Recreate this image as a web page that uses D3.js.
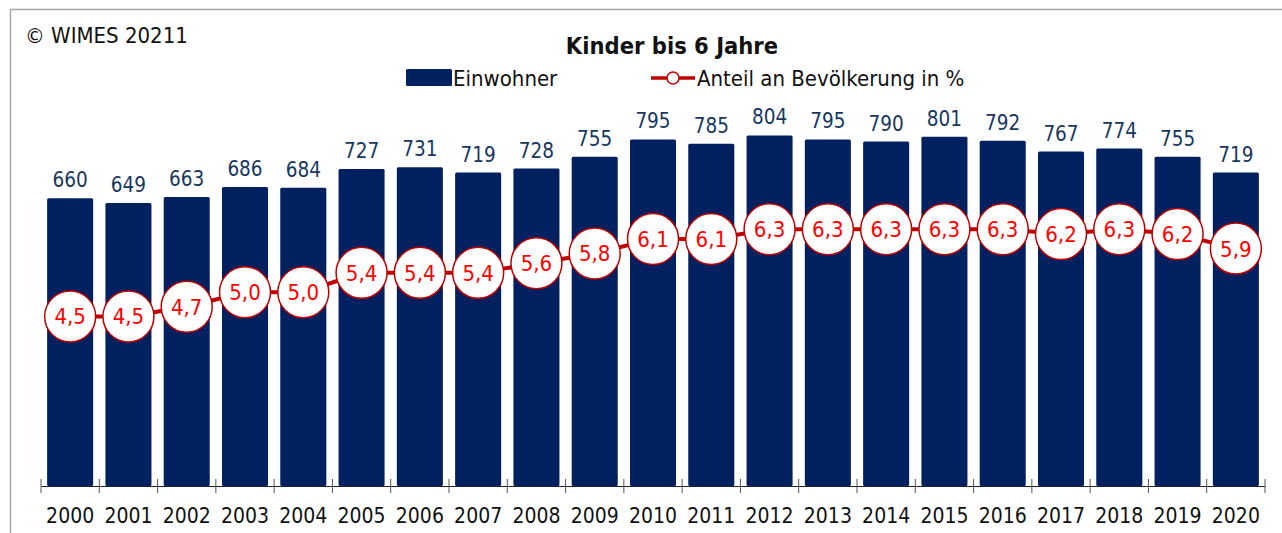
<!DOCTYPE html>
<html>
<head>
<meta charset="utf-8">
<script src="https://cdn.jsdelivr.net/npm/d3@7"></script>
<style>
  body { margin: 0; background: #fff; }
  text { font-family: Tahoma, "DejaVu Sans Condensed", "DejaVu Sans", sans-serif; }
</style>
</head>
<body>
<div id="chart"></div>
<script>
// data
let years = ["2000", "2001", "2002", "2003", "2004", "2005", "2006", "2007", "2008", "2009", "2010",
    "2011", "2012", "2013", "2014", "2015", "2016", "2017", "2018", "2019", "2020"]
let einwohner = [660, 649, 663, 686, 684, 727, 731, 719, 728, 755, 795, 785, 804, 795, 790, 801, 792, 767, 774, 755, 719]
let anteil = [4.5, 4.5, 4.7, 5.0, 5.0, 5.4, 5.4, 5.4, 5.6, 5.8, 6.1, 6.1, 6.3, 6.3, 6.3, 6.3, 6.3, 6.2, 6.3, 6.2, 5.9]

var width = 1282, height = 533

var svg = d3.select("#chart")
    .append("svg")
    .attr("width", width)
    .attr("height", height)

// frame
svg.append("path")
    .attr("d", "M10.5," + height + " V9.5 H" + width)
    .attr("fill", "none")
    .attr("stroke", "#a6a6a6")
    .attr("stroke-width", 1.5)

var x = d3.scaleBand().domain(years).range([41, 1265]).paddingInner(0.21).paddingOuter(0.105)
var y = d3.scaleLinear().domain([0, 1000]).range([486, 50])
var y2 = d3.scaleLinear().domain([1, 10]).range([486, 50])

svg.append("text")
    .attr("x", 25).attr("y", 43)
    .attr("font-size", 22)
    .attr("fill", "#111")
    .text("© WIMES 20211")

svg.append("text")
    .attr("x", 672).attr("y", 54)
    .attr("text-anchor", "middle")
    .attr("font-size", 23.5)
    .attr("font-weight", "bold")
    .attr("fill", "#111")
    .text("Kinder bis 6 Jahre")

// legend
svg.append("rect")
    .attr("x", 406).attr("y", 69).attr("width", 46).attr("height", 17).attr("rx", 1.5)
    .attr("fill", "#002060")
svg.append("text")
    .attr("x", 453).attr("y", 86).attr("font-size", 22).attr("fill", "#111")
    .text("Einwohner")
svg.append("line")
    .attr("x1", 651).attr("x2", 695).attr("y1", 78).attr("y2", 78)
    .attr("stroke", "#c00000").attr("stroke-width", 3.5)
svg.append("circle")
    .attr("cx", 673).attr("cy", 78).attr("r", 6)
    .attr("fill", "#fff").attr("stroke", "#c00000").attr("stroke-width", 1.5)
svg.append("text")
    .attr("x", 697).attr("y", 86).attr("font-size", 22).attr("fill", "#111")
    .text("Anteil an Bevölkerung in %")

// bars
svg.selectAll(".bar")
    .data(einwohner)
    .enter()
    .append("rect")
    .attr("class", "bar")
    .attr("x", (d, i) => x(years[i]))
    .attr("y", d => y(d))
    .attr("width", x.bandwidth())
    .attr("height", d => y(0) - y(d))
    .attr("rx", 1.5)
    .attr("fill", "#002060")

svg.selectAll(".val")
    .data(einwohner)
    .enter()
    .append("text")
    .attr("x", (d, i) => x(years[i]) + x.bandwidth() / 2)
    .attr("y", d => y(d) - 11)
    .attr("text-anchor", "middle")
    .attr("font-size", 20.5)
    .attr("fill", "#17375e")
    .text(d => d)

// x axis
var axis = svg.append("g")
    .attr("transform", "translate(0," + y(0) + ")")
    .call(d3.axisBottom(x).tickSize(0).tickPadding(22))
axis.select(".domain").attr("stroke", "#222").attr("stroke-width", 1)
axis.selectAll("text").attr("font-size", 21).attr("fill", "#111")
    .style("font-family", "Tahoma, 'DejaVu Sans Condensed', 'DejaVu Sans', sans-serif")
let step = x.step()
axis.selectAll(".sep")
    .data(d3.range(years.length + 1))
    .enter()
    .append("line")
    .attr("x1", i => 41 + i * step)
    .attr("x2", i => 41 + i * step)
    .attr("y1", -7).attr("y2", 7)
    .attr("stroke", "#555")

// line
var cx = (d, i) => x(years[i]) + x.bandwidth() / 2
svg.append("path")
    .datum(anteil)
    .attr("d", d3.line().x(cx).y(d => y2(d)))
    .attr("fill", "none")
    .attr("stroke", "#c00000")
    .attr("stroke-width", 4)

svg.selectAll(".dot")
    .data(anteil)
    .enter()
    .append("circle")
    .attr("cx", cx)
    .attr("cy", d => y2(d))
    .attr("r", 25.5)
    .attr("fill", "#fff")
    .attr("stroke", "#c00000")
    .attr("stroke-width", 1.5)

svg.selectAll(".pct")
    .data(anteil)
    .enter()
    .append("text")
    .attr("x", cx)
    .attr("y", d => y2(d) + 8)
    .attr("text-anchor", "middle")
    .attr("font-size", 22)
    .attr("fill", "#ff0000")
    .text(d => d.toFixed(1).replace(".", ","))
</script>
</body>
</html>
